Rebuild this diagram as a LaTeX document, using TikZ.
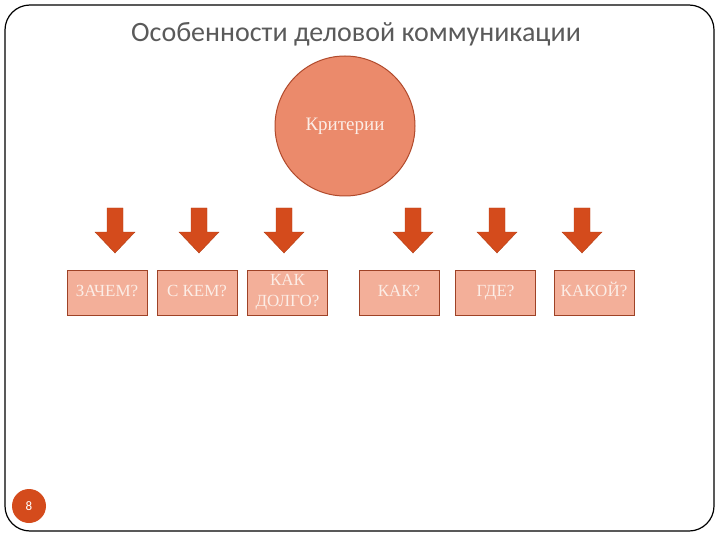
\documentclass[tikz,border=0pt]{standalone}
\usepackage{fontspec}
\setmainfont{Liberation Serif}
\newfontfamily\titlefont{Carlito}
\definecolor{circfill}{HTML}{EB8A6B}
\definecolor{circdraw}{HTML}{B04A2C}
\definecolor{arrfill}{HTML}{D44B1C}
\definecolor{boxfill}{HTML}{F3AF99}
\definecolor{boxdraw}{HTML}{9E4226}
\definecolor{lighttext}{HTML}{FCEDE6}
\definecolor{titlegray}{HTML}{5A5A5A}
\tikzset{
  critbox/.style={draw=boxdraw, fill=boxfill, line width=0.9pt, minimum width=80pt,
    minimum height=45pt, inner sep=1pt, text=lighttext, align=center,
    font=\fontsize{17}{21}\selectfont},
  onerow/.style={text height=11pt, text depth=3pt},
  blockarrow/.style={fill=arrfill, draw=arrfill!85!black, line width=0.4pt}
}
\begin{document}
\begin{tikzpicture}[x=1pt,y=-1pt]
    \useasboundingbox (0,0) rectangle (720,540);
    % ---- slide frame ----
    \draw[line width=1.2pt, rounded corners=25pt] (5,5) rectangle (714,531);
    \node[font=\titlefont\fontsize{28}{32}\selectfont, text=titlegray] (title) at (356,34)
      {Особенности деловой коммуникации};
    % ---- criteria circle ----
    \node[circle, draw=circdraw, fill=circfill, line width=1pt, minimum size=140pt,
      text=lighttext, font=\fontsize{19}{22}\selectfont] (crit) at (345,126) {Критерии};
    % ---- arrows ----
    \foreach \x in {115,199,284,413,497,582} {
        \draw[blockarrow] (\x-8,208) -- (\x+8,208) -- (\x+8,232) -- (\x+20,232)
          -- (\x,253) -- (\x-20,232) -- (\x-8,232) -- cycle;
    }
    % ---- boxes ----
    \node[critbox, onerow] (why)   at (107,292.5) {ЗАЧЕМ?};
    \node[critbox, onerow] (whom)  at (197,292.5) {С КЕМ?};
    \node[critbox] (long) at (287.5,292.5) {КАК\\ДОЛГО?};
    \node[critbox, onerow] (how)   at (399,292.5) {КАК?};
    \node[critbox, onerow] (where) at (495.5,292.5) {ГДЕ?};
    \node[critbox, onerow] (which) at (594,292.5) {КАКОЙ?};
    % ---- page number ----
    \node[circle, fill=arrfill, minimum size=34pt, inner sep=0pt, text=white,
      font=\titlefont\fontsize{13}{15}\selectfont] (page) at (29,506) {8};
\end{tikzpicture}
\end{document}
